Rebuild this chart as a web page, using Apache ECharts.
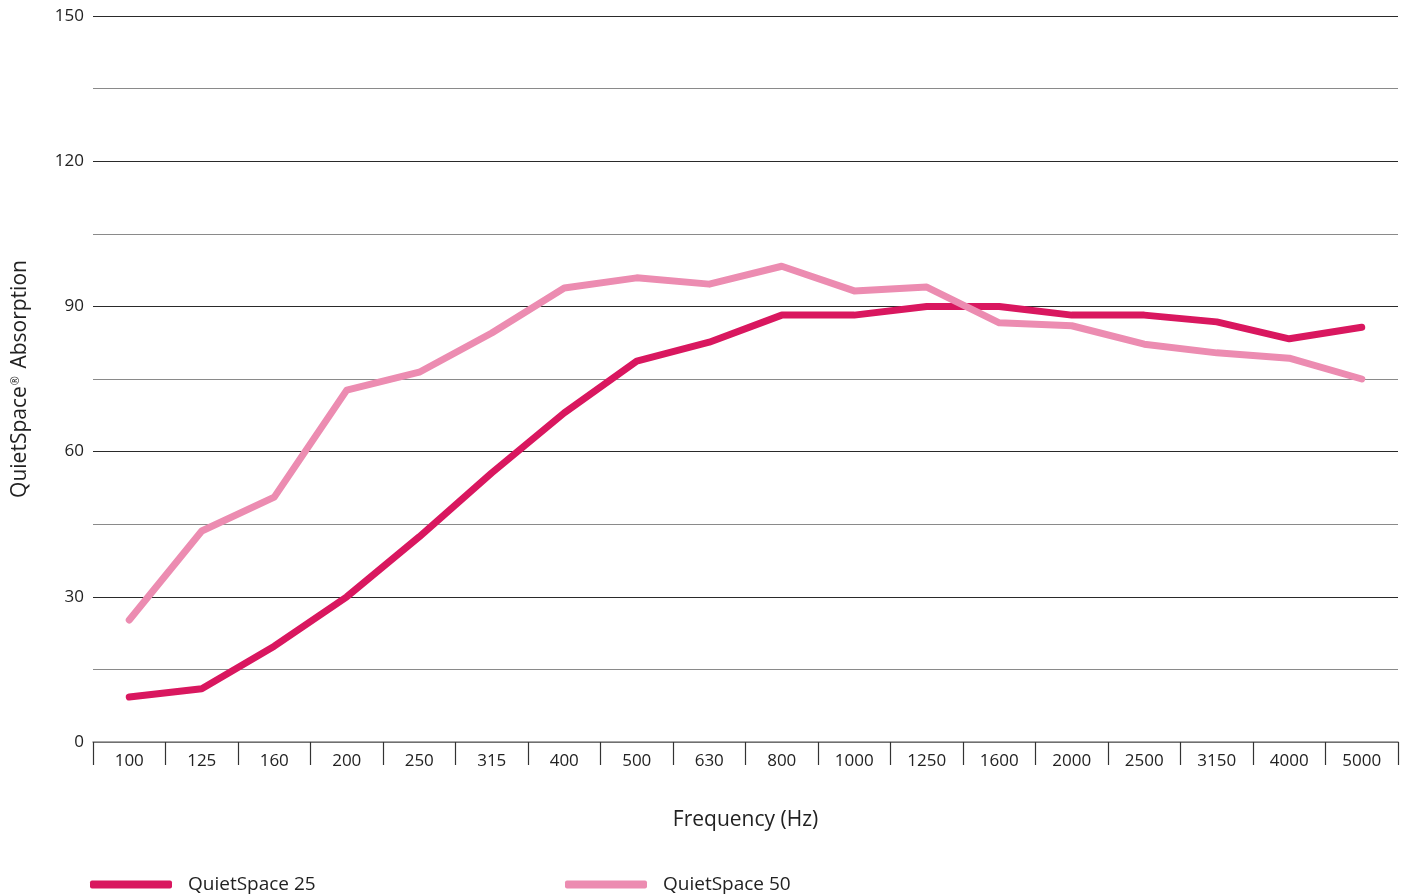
<!DOCTYPE html>
<html>
<head>
<meta charset="utf-8">
<title>QuietSpace Absorption</title>
<script src="https://cdn.jsdelivr.net/npm/echarts@6/dist/echarts.min.js"></script>
<style>
    html, body { margin: 0; padding: 0; background: #fff; }
    #chart { width: 1412px; height: 894px; }
</style>
</head>
<body>
<div id="chart"></div>
<script>
// frequency bands (Hz)
var frequencies = ['100', '125', '160', '200', '250', '315', '400', '500', '630', '800',
    '1000', '1250', '1600', '2000', '2500', '3150', '4000', '5000'];

// absorption values
var quietSpace25 = [9.3, 11, 19.8, 30, 42.4, 55.6, 68, 78.7, 82.6, 88.2,
    88.2, 90, 90, 88.2, 88.2, 86.8, 83.3, 85.7];
var quietSpace50 = [25.2, 43.6, 50.6, 72.7, 76.4, 84.5, 93.8, 95.9, 94.6, 98.3,
    93.2, 94, 86.6, 86, 82.2, 80.4, 79.3, 75];

var darkPink = '#d9175f';
var lightPink = '#ec8cb1';
var fontName = 'Open Sans';

function lineSeries(name, data, color) {
    return {
        name: name,
        type: 'line',
        data: data,
        symbol: 'none',
        smooth: false,
        silent: true,
        lineStyle: {
            color: color,
            width: 7,
            cap: 'round',
            join: 'round'
        },
        itemStyle: {
            color: color
        }
    };
}

function legendFor(name, left) {
    return {
        show: true,
        data: [name],
        left: left,
        top: 875,
        icon: 'roundRect',
        itemWidth: 82,
        itemHeight: 8,
        itemGap: 0,
        padding: 0,
        textStyle: {
            fontFamily: fontName,
            fontSize: 19,
            color: '#222',
            padding: [0, 0, 0, 11]
        }
    };
}

var chart = echarts.init(document.getElementById('chart'), null, {
    renderer: 'canvas'
});

var chartOptions = {
    animation: false,
    backgroundColor: '#ffffff',
    legend: [
        legendFor('QuietSpace 25', 90),
        legendFor('QuietSpace 50', 565)
    ],
    grid: {
        left: 93,
        right: 14,
        top: 16,
        bottom: 152,
        containLabel: false,
        outerBoundsMode: 'none'
    },
    xAxis: {
        type: 'category',
        data: frequencies,
        boundaryGap: true,
        name: 'Frequency (Hz)',
        nameLocation: 'middle',
        nameGap: 68,
        nameTextStyle: {
            fontFamily: fontName,
            fontSize: 21,
            color: '#222'
        },
        axisLine: {
            show: true,
            lineStyle: { color: '#888', width: 1.5 }
        },
        axisTick: {
            show: true,
            interval: 0,
            length: 23,
            lineStyle: { color: '#333', width: 1.2 }
        },
        axisLabel: {
            interval: 0,
            margin: 11,
            fontFamily: fontName,
            fontSize: 17,
            color: '#222'
        },
        splitLine: { show: false }
    },
    yAxis: {
        type: 'value',
        min: 0,
        max: 150,
        interval: 15,
        name: 'QuietSpace{sup|®} Absorption',
        nameLocation: 'middle',
        nameGap: 62,
        nameTextStyle: {
            fontFamily: fontName,
            fontSize: 21,
            color: '#222',
            rich: {
                sup: {
                    fontFamily: fontName,
                    fontSize: 11,
                    color: '#222',
                    padding: [0, 2, 10, 1]
                }
            }
        },
        axisLine: { show: false },
        axisTick: { show: false },
        axisLabel: {
            margin: 9,
            fontFamily: fontName,
            fontSize: 17,
            color: '#222',
            formatter: function(value) {
                return value % 30 === 0 ? String(value) : '';
            }
        },
        splitLine: {
            show: true,
            lineStyle: {
                // labelled lines darker, in-between lines gray
                color: ['#2a2a2a', '#8a8a8a'],
                width: 1.2
            }
        }
    },
    series: [
        lineSeries('QuietSpace 25', quietSpace25, darkPink),
        lineSeries('QuietSpace 50', quietSpace50, lightPink)
    ]
};

chart.setOption(chartOptions);

window.addEventListener('resize', chart.resize);
</script>
</body>
</html>
